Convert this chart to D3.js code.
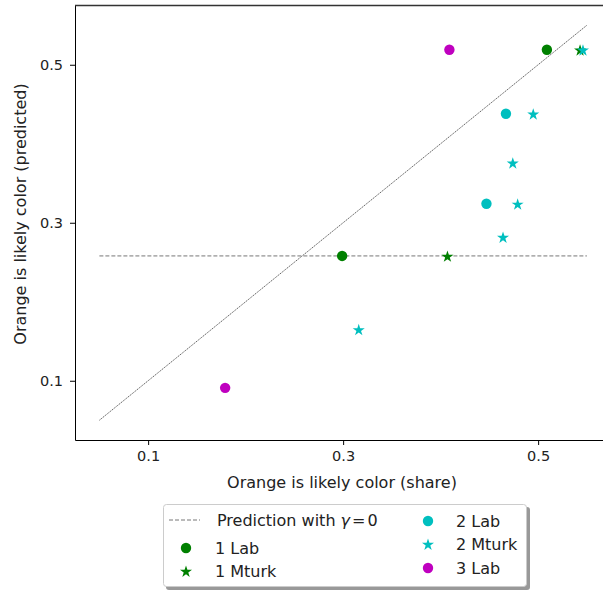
<!DOCTYPE html>
<html><head><meta charset="utf-8">
<script src="https://cdn.jsdelivr.net/npm/d3@7"></script>
<style>body{margin:0;background:#fff;} text{font-family:"DejaVu Sans",sans-serif;fill:#222;}</style>
</head><body>
<svg id="c" width="603" height="590"></svg>
<script>
const ticks = [0.1, 0.3, 0.5];
const predLine = [0.05, 0.55];
const predGamma0 = 0.258;
const lab1 = [[0.299, 0.258], [0.509, 0.519]];
const mturk1 = [[0.407, 0.258], [0.543, 0.519]];
const lab2 = [[0.467, 0.438], [0.447, 0.324]];
const mturk2 = [[0.495, 0.438], [0.474, 0.376], [0.479, 0.324], [0.464, 0.282], [0.316, 0.165], [0.546, 0.519]];
const lab3 = [[0.409, 0.519], [0.179, 0.091]];

const svg = d3.select("#c");
const mLeft = 75, mTop = 5, mBottom = 440;
const x = d3.scaleLinear().domain([0.025, 0.575]).range([mLeft, mLeft + 0.55 * 975]);
const y = d3.scaleLinear().domain([0.025, 0.575]).range([mBottom, mBottom - 0.55 * 790]);

const g = svg.append("g");
const xa = g.append("g").attr("transform", `translate(0,${mBottom})`)
  .call(d3.axisBottom(x).tickValues(ticks).tickFormat(d3.format(".1f")).tickSize(5).tickSizeOuter(0).tickPadding(6));
const ya = g.append("g").attr("transform", `translate(${mLeft},0)`)
  .call(d3.axisLeft(y).tickValues(ticks).tickFormat(d3.format(".1f")).tickSize(5).tickSizeOuter(0).tickPadding(7));
[xa, ya].forEach(a => {
  a.select(".domain").attr("stroke", "#000");
  a.selectAll(".tick line").attr("stroke", "#000");
  a.selectAll("text").attr("font-size", 14.5).attr("font-family", "DejaVu Sans").attr("fill", "#222");
});
g.append("line").attr("x1", mLeft).attr("x2", x(0.575)).attr("y1", y(0.575)).attr("y2", y(0.575)).attr("stroke", "#333").attr("stroke-width", 1.5);
g.append("line").attr("x1", x(0.575)).attr("x2", x(0.575)).attr("y1", y(0.575)).attr("y2", mBottom).attr("stroke", "#000");

g.append("line").attr("x1", x(predLine[0])).attr("y1", y(predLine[0])).attr("x2", x(predLine[1])).attr("y2", y(predLine[1]))
  .attr("stroke", "#666").attr("stroke-width", 1).attr("stroke-dasharray", "1.5,0.8");
g.append("line").attr("x1", x(predLine[0])).attr("x2", x(predLine[1])).attr("y1", y(predGamma0)).attr("y2", y(predGamma0))
  .attr("stroke", "#777").attr("stroke-width", 1).attr("stroke-dasharray", "4,2");

const star = d3.symbol().type(d3.symbolStar).size(45);
function circles(data, color) {
  g.selectAll(null).data(data).enter().append("circle")
    .attr("cx", d => x(d[0])).attr("cy", d => y(d[1])).attr("r", 5.2).attr("fill", color);
}
function stars(data, color) {
  g.selectAll(null).data(data).enter().append("path").attr("d", star)
    .attr("transform", d => `translate(${x(d[0])},${y(d[1])+0.8})`).attr("fill", color);
}
circles(lab1, "#008000");
stars(mturk1, "#008000");
circles(lab2, "#00bfbf");
stars(mturk2, "#00bfbf");
circles(lab3, "#bf00bf");

svg.append("text").attr("x", 342).attr("y", 488).attr("text-anchor", "middle").attr("font-size", 16)
  .text("Orange is likely color (share)");
svg.append("text").attr("transform", `translate(26,${214}) rotate(-90)`).attr("text-anchor", "middle").attr("font-size", 16)
  .text("Orange is likely color (predicted)");

const lg = svg.append("g");
lg.append("rect").attr("x", 166).attr("y", 507).attr("width", 364).attr("height", 83).attr("rx", 3).attr("fill", "#999");
lg.append("rect").attr("x", 163.5).attr("y", 504.5).attr("width", 363).attr("height", 82).attr("rx", 3)
  .attr("fill", "#fff").attr("stroke", "#ccc").attr("stroke-width", 1);
lg.append("line").attr("x1", 169).attr("x2", 200).attr("y1", 520).attr("y2", 520).attr("stroke", "#777").attr("stroke-dasharray", "4,2");
const t0 = lg.append("text").attr("x", 217).attr("y", 526).attr("font-size", 16);
t0.append("tspan").text("Prediction with ");
t0.append("tspan").attr("font-style", "italic").text("γ");
t0.append("tspan").attr("dx", 2).text("=");
t0.append("tspan").attr("dx", 2).text("0");
const legItems = [
  {x: 186, y: 548, tx: 215, shape: "c", color: "#008000", label: "1 Lab"},
  {x: 186, y: 571, tx: 215, shape: "s", color: "#008000", label: "1 Mturk"},
  {x: 428, y: 521, tx: 456, shape: "c", color: "#00bfbf", label: "2 Lab"},
  {x: 428, y: 544, tx: 456, shape: "s", color: "#00bfbf", label: "2 Mturk"},
  {x: 428, y: 568, tx: 456, shape: "c", color: "#bf00bf", label: "3 Lab"}
];
legItems.forEach(it => {
  if (it.shape === "c") lg.append("circle").attr("cx", it.x).attr("cy", it.y).attr("r", 5.2).attr("fill", it.color);
  else lg.append("path").attr("d", star).attr("transform", `translate(${it.x},${it.y + 0.8})`).attr("fill", it.color);
  lg.append("text").attr("x", it.tx).attr("y", it.y + 6).attr("font-size", 16).text(it.label);
});
</script>
</body></html>
